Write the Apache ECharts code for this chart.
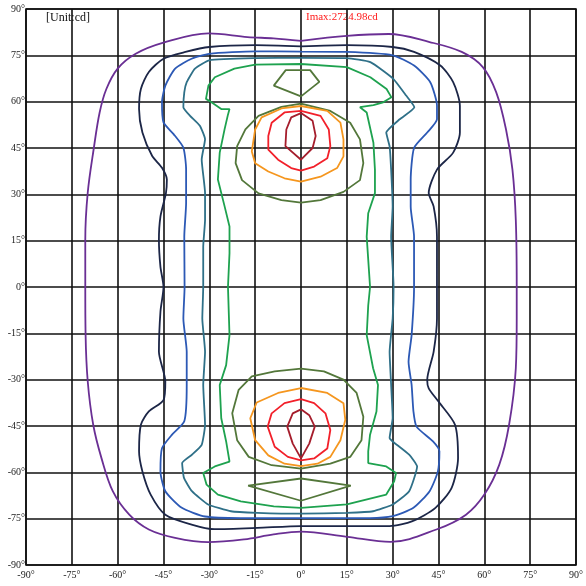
<!DOCTYPE html>
<html>
<head>
<meta charset="utf-8">
<script src="https://cdn.jsdelivr.net/npm/echarts@6/dist/echarts.min.js"></script>
<style>
  html, body { margin: 0; padding: 0; background: #fff; }
  #chart { width: 586px; height: 586px; }
</style>
</head>
<body>
<div id="chart"></div>
<script>
// Iso-candela contours of the luminous intensity distribution (angles in degrees)
const axisTicks = [-90, -75, -60, -45, -30, -15, 0, 15, 30, 45, 60, 75, 90];
const unitText = '[Unit:cd]';
const imaxText = 'Imax:2724.98cd';

// outermost level
const purpleLine = [
  [0, 79.7], [15, 81.3], [28.7, 81.9], [42.1, 79.3], [52.6, 76.1], [59.5, 71.2], [63.9, 63], [67.1, 51],
  [69.2, 38], [70.3, 21.7], [70.6, 0], [70.6, -10.2], [70.3, -26.3], [68.1, -44.6], [64.9, -57.5],
  [60, -67.2], [54, -73.7], [44.3, -78.5], [29.3, -82.5], [15.1, -80.9], [0, -79.2], [-9, -80.1],
  [-18.6, -81.7], [-30.4, -82.6], [-41.2, -81.2], [-49.8, -78.5], [-56.2, -73.7], [-61.6, -66.1],
  [-65.3, -55.4], [-68, -44.6], [-69.8, -30.5], [-70.5, -15.3], [-70.6, 0], [-70.6, 15.3], [-69.8, 30.5],
  [-67.8, 45], [-65.9, 56.5], [-63.7, 64.1], [-60, 70.7], [-54.1, 75.5], [-45, 79.1], [-30.3, 82.1],
  [-17.5, 80.9], [-9, 80.5], [0, 79.7]
];

const navyLine = [
  [0, 77.9], [15, 78.3], [30, 77.7], [37, 76.1], [45.6, 71.7], [49.8, 66.3], [52, 58.7], [52, 50],
  [49.8, 43.5], [44.5, 38], [41.8, 30.4], [43.4, 26.1], [44.5, 16.3], [44.5, 0], [44.5, -10.2],
  [43.4, -21], [41.3, -30.1], [41.8, -32.8], [45, -37.1], [50.4, -44.6], [51.4, -55.4], [49.3, -65],
  [44, -71.5], [36.5, -75.8], [29, -77.4], [15, -77.4], [0, -77.4], [-14.3, -78], [-28.3, -78.4],
  [-35.8, -76.9], [-44.4, -73.7], [-49.2, -67.2], [-51.9, -59.7], [-53, -53.2], [-52.4, -44.6],
  [-49.8, -40.3], [-45, -36.6], [-44.4, -30.6], [-46.5, -21], [-46, -8], [-45, 0], [-46, 6.5],
  [-46.5, 15.2], [-46, 22.8], [-44.2, 30.4], [-43.9, 34.8], [-45.5, 38.6], [-48.7, 42.4], [-51.9, 50],
  [-53, 57.6], [-52.4, 64.1], [-49.8, 69.6], [-45, 73.9], [-37.8, 76.1], [-30, 77.7], [-15, 78.3], [0, 77.9]
];

const blueLine = [
  [0, 76.2], [15, 76.1], [30, 75], [37, 71.7], [42.3, 66.3], [44.5, 58.7], [44.5, 54.3], [41.3, 50],
  [37, 45], [35.9, 34.6], [35.9, 26.1], [37, 16.3], [37, 0], [36.2, -15.6], [35.2, -24.2], [36.2, -31.7],
  [36.8, -40.3], [37.8, -45.2], [43.2, -50], [45.3, -53.2], [44.8, -59.7], [42.1, -66.1], [36.8, -71.5],
  [30, -74.2], [22.6, -74.8], [0, -74.8], [-19.7, -74.8], [-31.4, -74.3], [-39, -71.5], [-44.4, -66.1],
  [-46, -59.7], [-45.5, -52.2], [-42.2, -47.8], [-38.2, -43.5], [-37.4, -31.7], [-37.4, -21],
  [-38.5, -10.2], [-38.1, 0], [-38.2, 16.3], [-37.6, 27.2], [-37.6, 38], [-38.5, 45.1], [-41.7, 49.5],
  [-45, 53.3], [-45.5, 59.8], [-44.4, 65.2], [-41.2, 70.7], [-35.8, 73.9], [-30, 75.5], [-15, 76.3], [0, 76.2]
];

const tealLine = [
  [0, 74.2], [15, 74.1], [22.7, 72.8], [30.2, 67.4], [34.4, 62], [37.1, 58.2], [32.3, 54.3], [27.9, 50],
  [29, 45.5], [29.5, 38], [30, 26.1], [29.5, 16.3], [30.3, 0], [30, -10.2], [29, -21], [29.5, -31.7],
  [30, -42.4], [29, -48.9], [30, -50], [35.4, -54.3], [38, -58.1], [35.4, -66.1], [30, -70.4],
  [23.6, -72.6], [15, -73.1], [0, -73.4], [-14.3, -73.1], [-22.9, -72.6], [-30.4, -70.4], [-35.7, -66.1],
  [-38.3, -61.8], [-38.9, -57], [-35.7, -54.3], [-32.5, -51.1], [-31.4, -44.6], [-32, -31.7],
  [-31.4, -21], [-32.3, -10.2], [-32, 0], [-32, 13], [-31.4, 21.7], [-31.4, 30.4], [-32.5, 41.3],
  [-31.4, 47.8], [-33.1, 52.2], [-36.3, 55.4], [-38.5, 58.2], [-38.2, 63], [-37.4, 66.3], [-34.7, 70.7],
  [-30, 73.4], [-15, 74.1], [0, 74.2]
];

const greenLine = [
  [0, 72.2], [15, 71.2], [22.7, 67.9], [28, 64.1], [29.6, 61.4], [26.9, 59.8], [23.7, 58.9], [19.3, 58.2],
  [21.5, 56.5], [23.7, 46.7], [24.2, 38], [24.2, 30.4], [22, 23.9], [21.5, 16.3], [22.6, 0], [22, -6],
  [21.5, -15.6], [23.6, -26.3], [25.2, -31.7], [24.7, -40.3], [22.6, -47.8], [22, -53.2], [22, -57],
  [24.7, -57.5], [27.9, -58.1], [31.1, -60.2], [30.5, -62.9], [27.9, -67.2], [15, -70.4], [0, -71.5],
  [-8.9, -71], [-19.7, -69.4], [-27.2, -67.2], [-30.9, -64], [-32, -60.2], [-28.2, -58.1], [-23.4, -56.5],
  [-24.5, -50], [-26.1, -42.5], [-26.6, -31.7], [-24.5, -25.3], [-23.4, -15.6], [-23.9, 0], [-23.4, 10.9],
  [-23.4, 19.6], [-25, 26.1], [-27.2, 34.8], [-26.6, 43.5], [-25, 51.1], [-24, 55.4], [-23.4, 57.6],
  [-26.1, 57.6], [-29.3, 59.8], [-31.1, 60.9], [-30.3, 65.2], [-28.2, 67.9], [-21.8, 70.7], [-15, 72],
  [0, 72.2]
];

const oliveUpper = [
  [0, 59.4], [9.6, 57], [16.1, 53.2], [19.3, 47.8], [20.4, 40.1], [19.3, 34.6], [13.9, 30.8], [6.4, 28.1],
  [0, 27.3], [-6.4, 28.1], [-13.9, 30.3], [-19.3, 34.6], [-21.4, 40.1], [-20.9, 45.6], [-18.2, 51],
  [-13.9, 55.4], [-6.4, 58.3], [0, 59.4]
];
const oliveUpperCap = [[0, 61.7], [6, 66.4], [3, 70.2], [-5, 70.2], [-8.9, 65.2], [0, 61.7]];
const oliveLower = [
  [0, -26.4], [7.5, -27.3], [13.9, -30], [18.2, -34.3], [20.4, -42], [19.8, -49.6], [16.1, -55],
  [9.6, -57.2], [0, -58.8], [-9.6, -57.7], [-17.1, -55], [-20.9, -49.6], [-22.5, -40.9], [-20.4, -33.3],
  [-16.1, -28.9], [-8.6, -27.3], [0, -26.4]
];
const oliveLowerCap = [[0, -62], [16.3, -64.3], [0, -69.2], [-17.3, -64.3], [0, -62]];

const orangeUpper = [
  [0, 58.6], [8.6, 57], [12.9, 53.2], [13.9, 47.8], [13.9, 42.3], [11.8, 38.5], [6.4, 35.7], [0, 34.1],
  [-5.4, 35.2], [-10.7, 37.4], [-15, 40.1], [-16.1, 43.9], [-15, 51], [-12.9, 54.9], [-6.4, 57.8], [0, 58.6]
];
const orangeLower = [
  [0, -32.7], [8.6, -34.3], [13.9, -37.6], [14.5, -43], [12.9, -49.6], [9.6, -55], [5.4, -57.2], [0, -58],
  [-5.4, -57.2], [-10.7, -54.5], [-15, -49.6], [-16.6, -42.5], [-14.5, -37.4], [-7.5, -34.3], [0, -32.7]
];

const redUpper = [
  [0, 57], [6.4, 55.4], [9.1, 51], [9.6, 45.6], [8.6, 41.7], [4.3, 39], [0, 37.7], [-3.2, 38.5],
  [-7.5, 41.2], [-10.7, 44.5], [-10.7, 48.9], [-9.6, 53.2], [-5.4, 56.5], [0, 57]
];
const redLower = [
  [0, -36.3], [4.3, -37.6], [8, -40.9], [9.6, -46.3], [8.6, -52.3], [4.3, -55.5], [0, -56.1],
  [-4.3, -55], [-8.6, -51.7], [-10.9, -45.2], [-9.6, -40.9], [-5.4, -37.6], [0, -36.3]
];

const darkRedUpper = [
  [0, 56.3], [3.8, 53.8], [4.8, 48.9], [3.8, 45], [0, 41.2], [-5.1, 45.6], [-4.8, 51], [-3.2, 54.9], [0, 56.3]
];
const darkRedLower = [
  [0, -39.6], [2.7, -41.5], [4.5, -45.2], [2.7, -50.7], [0, -55.5], [-2.7, -50.7], [-4.5, -45.2],
  [-2.7, -40.9], [0, -39.6]
];

// smoothing is only applied to the broad outer levels
const contours = [
  { data: purpleLine, color: '#6a2f94', smooth: 0.35 },
  { data: navyLine, color: '#1c2647', smooth: 0.25 },
  { data: blueLine, color: '#2c59b5', smooth: 0.2 },
  { data: tealLine, color: '#2f7088', smooth: 0.15 },
  { data: greenLine, color: '#1ea24f', smooth: 0 },
  { data: oliveUpper, color: '#53773a', smooth: 0 },
  { data: oliveUpperCap, color: '#53773a', smooth: 0 },
  { data: oliveLower, color: '#53773a', smooth: 0 },
  { data: oliveLowerCap, color: '#53773a', smooth: 0 },
  { data: orangeUpper, color: '#f5961e', smooth: 0 },
  { data: orangeLower, color: '#f5961e', smooth: 0 },
  { data: redUpper, color: '#f2202a', smooth: 0 },
  { data: redLower, color: '#f2202a', smooth: 0 },
  { data: darkRedUpper, color: '#a51d2c', smooth: 0 },
  { data: darkRedLower, color: '#a51d2c', smooth: 0 }
];

const labelFont = { fontFamily: 'Liberation Serif', fontSize: 10, color: '#222' };
const gridLine = { show: true, lineStyle: { color: '#111', width: 1.6 } };

const chart = echarts.init(document.getElementById('chart'), null, { renderer: 'canvas' });
chart.setOption({
  animation: false,
  backgroundColor: '#fff',
  grid: { left: 26, right: 3, top: 9, bottom: 21, show: true, borderColor: '#111', borderWidth: 1.6 },
  xAxis: {
    type: 'value', min: axisTicks[0], max: axisTicks[axisTicks.length - 1], interval: 15,
    axisLine: { show: false }, axisTick: { show: false },
    axisLabel: Object.assign({ margin: 5, formatter: v => v + '°' }, labelFont),
    splitLine: gridLine
  },
  yAxis: {
    type: 'value', min: axisTicks[0], max: axisTicks[axisTicks.length - 1], interval: 15,
    axisLine: { show: false }, axisTick: { show: false },
    axisLabel: Object.assign({ margin: 1, formatter: v => v + '°' }, labelFont),
    splitLine: gridLine
  },
  series: contours.map(c => ({
    type: 'line', data: c.data, showSymbol: false, symbol: 'none', smooth: c.smooth,
    lineStyle: { color: c.color, width: 1.8 }, silent: true
  })),
  graphic: [
    { type: 'text', left: 46, top: 12,
      style: { text: unitText, fontFamily: 'Liberation Serif', fontSize: 12, fill: '#111' } },
    { type: 'text', left: 306, top: 12,
      style: { text: imaxText, fontFamily: 'Liberation Serif', fontSize: 11, fill: '#ff1a1a' } }
  ]
});
</script>
</body>
</html>
